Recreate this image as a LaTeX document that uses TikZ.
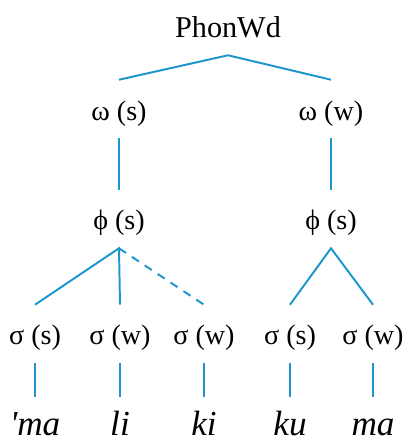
\documentclass[tikz,border=0pt]{standalone}
\usepackage{fontspec}
\setmainfont{Liberation Serif}
\usetikzlibrary{positioning}

\definecolor{treeblue}{RGB}{30,150,205}
\tikzset{
  lbl/.style={draw=none,anchor=base,inner xsep=0pt,inner ysep=0.2cm,
    text height=0.8cm,text depth=0.25cm,font=\fontsize{20}{24}\selectfont},
  syl/.style={lbl,inner ysep=0pt,text height=0.95cm,text depth=0pt,
    font=\fontsize{25}{30}\selectfont\itshape},
  br/.style={treeblue,line width=1.4pt}
}

\begin{document}
\begin{tikzpicture}
    \useasboundingbox (0,0) rectangle (10.1,11.1);

    \node[lbl,font=\fontsize{21.5}{26}\selectfont](pw)at(5.7,10.175){PhonWd};
    \node[lbl](ws)at(2.975,8.1){ω (s)};
    \node[lbl](ww)at(8.275,8.1){ω (w)};
    \node[lbl](fs)at(2.975,5.35){ϕ (s)};
    \node[lbl](fw)at(8.275,5.35){ϕ (s)};

    \node[lbl](s1)at(0.875,2.475){σ (s)};
    \node[lbl](s2)at(3.0,2.475){σ (w)};
    \node[lbl](s3)at(5.1,2.475){σ (w)};
    \node[lbl](s4)at(7.25,2.475){σ (s)};
    \node[lbl](s5)at(9.325,2.475){σ (w)};

    \node[syl](m1)at(0.875,0.22){\textquotesingle ma};
    \node[syl](m2)at(3.0,0.22){li};
    \node[syl](m3)at(5.1,0.22){ki};
    \node[syl](m4)at(7.25,0.22){ku};
    \node[syl](m5)at(9.325,0.22){ma};

    \draw[br] (ws.north) -- (pw.south) -- (ww.north);
    \draw[br] (ws) -- (fs);
    \draw[br] (ww) -- (fw);
    \draw[br] (s1.north) -- (fs.south) -- (s2.north);
    \draw[br,dash pattern=on 6pt off 5pt] (fs.south) -- (s3.north);
    \draw[br] (s4.north) -- (fw.south) -- (s5.north);
    \foreach \i in {1,...,5}
      \draw[br] (s\i) -- (m\i);
  \end{tikzpicture}
\end{document}
